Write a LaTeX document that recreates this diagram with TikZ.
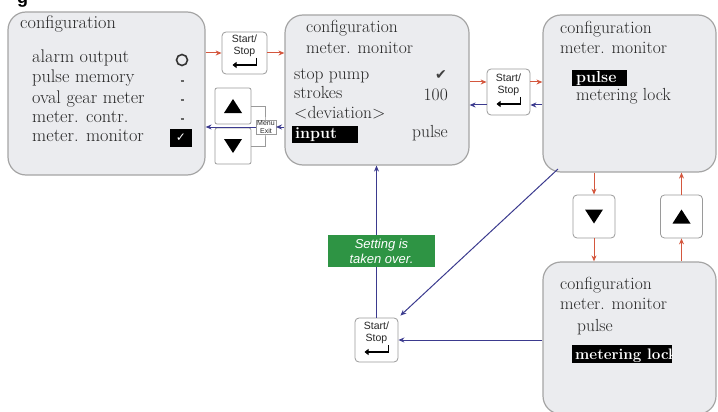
\documentclass[tikz,border=0pt]{standalone}
\usepackage{fontspec}
\setsansfont{Liberation Sans}
\newfontfamily\symfont{DejaVu Sans}
\usetikzlibrary{arrows.meta,calc}
\definecolor{arrred}{HTML}{D4573E}
\definecolor{arrblue}{HTML}{3B3A8E}
\definecolor{boxfill}{HTML}{EBECEF}
\definecolor{boxline}{HTML}{A5A5A5}
\definecolor{keyline}{HTML}{9A9A9A}
\definecolor{okgreen}{HTML}{2E9444}
\definecolor{txtcol}{HTML}{262626}
\begin{document}
\begin{tikzpicture}[x=1pt,y=-1pt,
  panel/.style={draw=boxline, line width=1.2pt, fill=boxfill, rounded corners=18pt, inner sep=0pt},
  keybox/.style={draw=keyline, line width=0.8pt, fill=white, rounded corners=4pt, inner sep=0pt},
  txt/.style={anchor=base west, inner sep=0pt, text=txtcol, font=\fontsize{17.5}{19}\selectfont},
  bigtxt/.style={anchor=base west, inner sep=0pt, text=txtcol, font=\fontsize{18.3}{19}\selectfont},
  rtxt/.style={anchor=base east, inner sep=0pt, text=txtcol, font=\fontsize{17.5}{19}\selectfont},
  hltxt/.style={anchor=base west, inner sep=0pt, text=white, font=\bfseries\fontsize{16}{19}\selectfont},
  hlbox/.style={fill=black, inner sep=0pt, anchor=north west},
  keytxt/.style={font=\sffamily\fontsize{10.5}{11.5}\selectfont, align=center, inner sep=0pt, text=txtcol},
  redarr/.style={draw=arrred, line width=1pt, -{Stealth[length=6pt,width=5pt]}},
  bluearr/.style={draw=arrblue, line width=1pt, -{Stealth[length=6pt,width=5pt]}},
  retarr/.style={line width=1.6pt, -{Triangle[length=4pt,width=6pt]}}
]
\useasboundingbox (0,0) rectangle (718,412);

% cropped heading letter
\node (head) [anchor=base west, inner sep=0pt, font=\sffamily\bfseries\fontsize{18}{18}\selectfont] at (17,4) {g};

% ---------- panels ----------
\node (b1) [panel, minimum width=197pt, minimum height=163pt] at (106.5,93.5) {};
\node (b2) [panel, minimum width=184pt, minimum height=150pt] at (377,90) {};
\node (b3) [panel, minimum width=173pt, minimum height=157pt] at (629.5,93.5) {};
\node (b4) [panel, minimum width=173pt, minimum height=152pt] at (629.5,338) {};

% ---------- panel 1 ----------
\node (t10) [bigtxt] at (20,29) {configuration};
\node (t11) [bigtxt] at (32,63) {alarm output};
\node (t12) [bigtxt] at (32,83) {pulse memory};
\node (t13) [bigtxt] at (32,103) {oval gear meter};
\node (t14) [bigtxt] at (32,122) {meter. contr.};
\node (t15) [bigtxt] at (32,141) {meter. monitor};
\node (c1) [circle, draw=black!80, line width=1.6pt, minimum size=11pt, inner sep=0pt] at (182,60) {};
\draw[line width=1.1pt, black!60] (180.5,81) -- (183.5,81);
\draw[line width=1.1pt, black!60] (180.5,100) -- (183.5,100);
\draw[line width=1.1pt, black!60] (180.5,119) -- (183.5,119);
\node (cb) [fill=black, minimum width=22pt, minimum height=18pt, inner sep=0pt] at (181,138) {};
\node (cbm) [text=white, inner sep=0pt, font=\symfont\fontsize{12}{12}\selectfont] at (cb) {✓};

% ---------- panel 2 ----------
\node (t20) [txt] at (306,33) {configuration};
\node (t21) [txt] at (306,54) {meter. monitor};
\node (t22) [txt] at (294,80) {stop pump};
\node (t23) [txt] at (294,99) {strokes};
\node (t24) [txt] at (294,118) {<deviation>};
\node (h2) [hlbox, minimum width=66pt, minimum height=17pt] at (292,126) {};
\node (t25) [hltxt] at (295,138) {input};
\node (t26) [rtxt] at (448,137) {pulse};
\node (t27) [rtxt] at (448,100) {100};
\node (chk) [inner sep=0pt, text=black!75, font=\symfont\fontsize{14}{14}\selectfont] at (441,75) {✔};

% ---------- panel 3 ----------
\node (t30) [txt] at (560,34) {configuration};
\node (t31) [txt] at (560,54) {meter. monitor};
\node (h3) [hlbox, minimum width=55pt, minimum height=16pt] at (572,70) {};
\node (t32) [hltxt] at (576,82) {pulse};
\node (t33) [txt] at (576,101) {metering lock};

% ---------- panel 4 ----------
\node (t40) [txt] at (560,289) {configuration};
\node (t41) [txt] at (560,309) {meter. monitor};
\node (t42) [txt] at (577,331) {pulse};
\node (h4) [hlbox, minimum width=100pt, minimum height=18pt] at (572,345) {};
\begin{scope}
  \clip (572,345) rectangle (672,363);
  \node (t43) [hltxt, font=\bfseries\fontsize{15.2}{19}\selectfont] at (575,359) {metering lock};
\end{scope}

% ---------- Start/Stop keys ----------
\node (k1) [keybox, minimum width=45pt, minimum height=42pt] at (244.5,53) {};
\node (k2) [keybox, minimum width=43pt, minimum height=46pt] at (508.5,92) {};
\node (k3) [keybox, minimum width=43pt, minimum height=44pt] at (376.5,340) {};
\foreach \k in {k1,k2,k3}{
  \node (\k t) [keytxt] at ([yshift=7pt]\k.center) {Start/\\Stop};
  \draw[retarr] ([shift={(12pt,-5pt)}]\k.center) -- ([shift={(12pt,-12pt)}]\k.center) -- ([shift={(-12pt,-12pt)}]\k.center);
}

% ---------- arrow keys ----------
\node (up1) [keybox, rounded corners=2pt, minimum width=36pt, minimum height=36pt] at (233,106) {};
\node (dn1) [keybox, rounded corners=2pt, minimum width=36pt, minimum height=36pt] at (233,146) {};
\node (dnR) [keybox, minimum width=42pt, minimum height=43pt] at (594,216.5) {};
\node (upR) [keybox, minimum width=42pt, minimum height=43pt] at (681.5,216.5) {};
\foreach \k in {up1,upR}{
  \fill ([shift={(-9pt,-7pt)}]\k.center) -- ([shift={(9pt,-7pt)}]\k.center) -- ([shift={(0pt,7pt)}]\k.center) -- cycle;
}
\foreach \k in {dn1,dnR}{
  \fill ([shift={(-9pt,7pt)}]\k.center) -- ([shift={(9pt,7pt)}]\k.center) -- ([shift={(0pt,-7pt)}]\k.center) -- cycle;
}

% Menu/Exit bracket
\draw[keyline, line width=0.6pt] (up1.east) -| (265,127) |- (dn1.east);
\node (menu) [draw=keyline, line width=0.5pt, fill=white, inner sep=1pt, align=center,
  font=\sffamily\fontsize{7}{7.5}\selectfont, text=txtcol] at (266,127) {Menu\\Exit};

% ---------- connectors ----------
\draw[redarr] (k1.west -| b1.east) -- (k1.west);
\draw[redarr] (k1.east) -- (k1.east -| b2.west);
\draw[bluearr] (b2.west |- menu) -- (menu.east);
\draw[bluearr] (menu.west) -- (menu.west -| b1.east);

\draw[redarr] ([yshift=10pt]k2.west -| b2.east) -- ([yshift=10pt]k2.west);
\draw[redarr] ([yshift=10pt]k2.east) -- ([yshift=10pt]k2.east -| b3.west);
\draw[bluearr] ([yshift=-13pt]k2.east -| b3.west) -- ([yshift=-13pt]k2.east);
\draw[bluearr] ([yshift=-13pt]k2.west) -- ([yshift=-13pt]k2.west -| b2.east);

\draw[redarr] (dnR.north |- b3.south) -- (dnR.north);
\draw[redarr] (dnR.south) -- (dnR.south |- b4.north);
\draw[redarr] (upR.south |- b4.north) -- (upR.south);
\draw[redarr] (upR.north) -- (upR.north |- b3.south);

\coordinate (d1) at (558,169);
\draw[bluearr] (d1) -- ([shift={(2pt,2pt)}]k3.north east);
\draw[bluearr] (k3.east -| b4.west) -- (k3.east);
\draw[bluearr] (k3.north) -- (k3.north |- b2.south);

% green note
\node (gn) [fill=okgreen, minimum width=107pt, minimum height=32pt, inner sep=0pt] at (381.5,251) {};
\node (gnt) [text=white, align=center, inner sep=0pt, font=\sffamily\itshape\fontsize{13}{15}\selectfont] at (gn) {Setting is\\taken over.};
\end{tikzpicture}
\end{document}
